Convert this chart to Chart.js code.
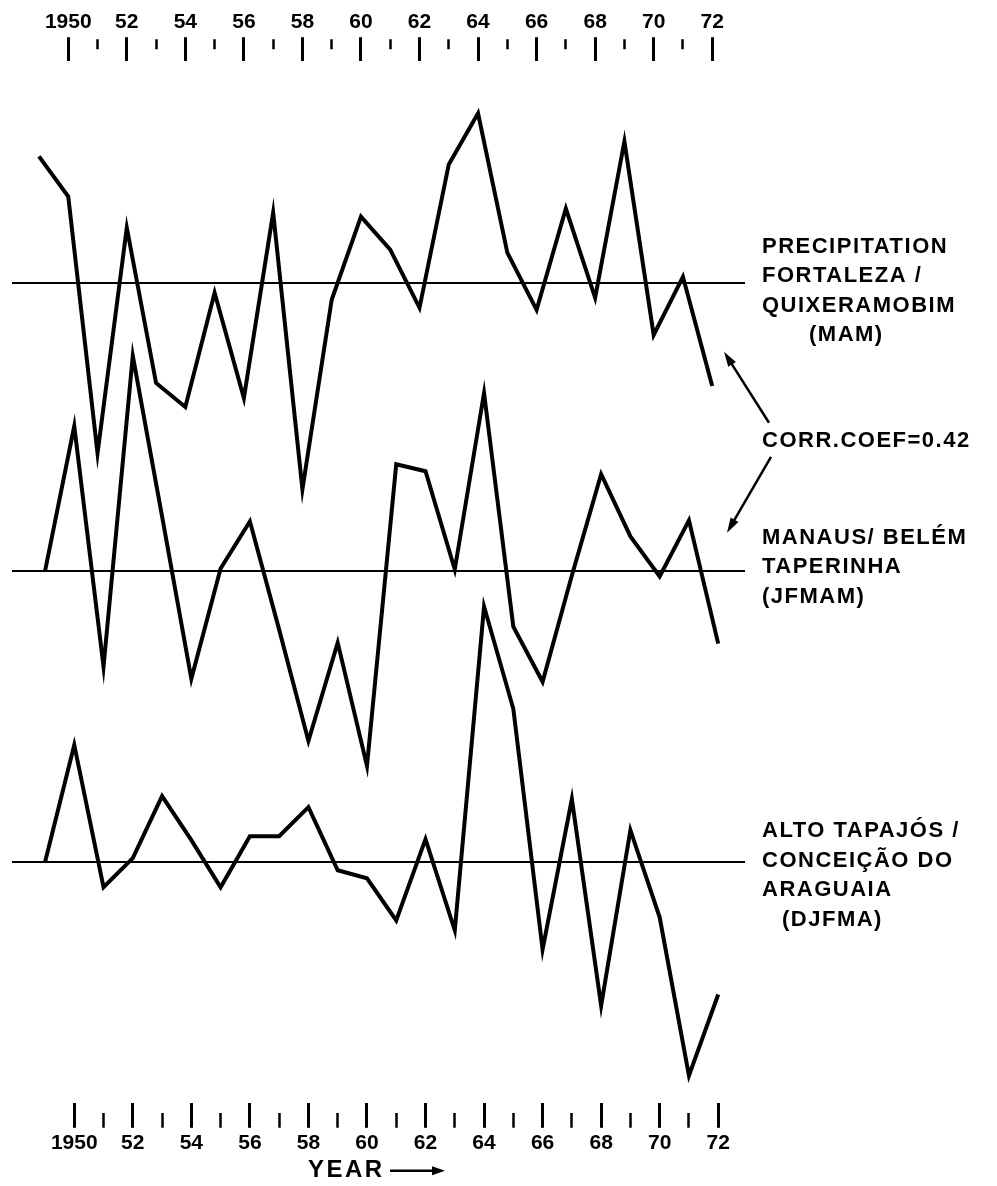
<!DOCTYPE html>
<html>
<head>
<meta charset="utf-8">
<title>Precipitation departures 1949-1972</title>
<script src="https://cdn.jsdelivr.net/npm/chart.js@4.4.0/dist/chart.umd.min.js"></script>
<style>
  body { margin: 0; background: #fff; }
  #chart { display: block; }
</style>
</head>
<body>
<canvas id="chart" width="997" height="1186"></canvas>
<script>
// years of the three series
const years = [1949, 1950, 1951, 1952, 1953, 1954, 1955, 1956, 1957, 1958, 1959, 1960,
               1961, 1962, 1963, 1964, 1965, 1966, 1967, 1968, 1969, 1970, 1971, 1972];

// standardized precipitation departures
const fortaleza = [1.26, 0.86, -1.70, 0.55, -1.00, -1.24, -0.10, -1.15, 0.70, -2.06, -0.17, 0.66,
                   0.33, -0.25, 1.18, 1.69, 0.30, -0.27, 0.74, -0.15, 1.41, -0.52, 0.06, -1.03];
const manaus = [0.00, 1.45, -0.95, 2.15, 0.55, -1.07, 0.03, 0.50, -0.58, -1.69, -0.71, -1.94,
                1.07, 1.00, 0.02, 1.78, -0.55, -1.10, -0.04, 0.97, 0.35, -0.05, 0.51, -0.72];
const altoTapajos = [0.00, 1.17, -0.25, 0.04, 0.66, 0.22, -0.25, 0.26, 0.26, 0.55, -0.08, -0.16,
                     -0.58, 0.23, -0.68, 2.55, 1.53, -0.87, 0.63, -1.43, 0.32, -0.55, -2.13, -1.32];

// year axis ticks, labels only on even years
const tickYears = [1950, 1951, 1952, 1953, 1954, 1955, 1956, 1957, 1958, 1959, 1960, 1961,
                   1962, 1963, 1964, 1965, 1966, 1967, 1968, 1969, 1970, 1971, 1972];
const tickLabels = ['1950', '', '52', '', '54', '', '56', '', '58', '', '60', '',
                    '62', '', '64', '', '66', '', '68', '', '70', '', '72'];

// text beside each curve
const notesFortaleza = ['PRECIPITATION', 'FORTALEZA /', 'QUIXERAMOBIM', '(MAM)'];
const notesManaus = ['MANAUS/ BELÉM', 'TAPERINHA', '(JFMAM)'];
const notesTapajos = ['ALTO TAPAJÓS /', 'CONCEIÇÃO DO', 'ARAGUAIA', '(DJFMA)'];
const corrText = 'CORR.COEF=0.42';

const letterFont = '"Liberation Sans", Arial, sans-serif';

function toPoints(vals) {
  return years.map((y, i) => ({ x: y, y: vals[i] }));
}

// year axis: long ticks on even years, short ones on odd years
function yearAxis(pos, min, max, minorDash, len, pad) {
  return {
    type: 'linear',
    position: pos,
    min: min,
    max: max,
    afterBuildTicks: (s) => { s.ticks = tickYears.map(v => ({ value: v })); },
    border: { display: false },
    grid: {
      drawOnChartArea: false,
      tickLength: len,
      tickColor: '#000',
      tickWidth: (c) => c.tick && c.tick.value % 2 ? 2.5 : 3,
      tickBorderDash: (c) => c.tick && c.tick.value % 2 ? minorDash : []
    },
    ticks: {
      autoSkip: false,
      maxRotation: 0,
      padding: pad,
      color: '#000',
      font: { family: letterFont, size: 21, weight: 'bold' },
      callback: (v) => tickLabels[tickYears.indexOf(v)] || ''
    }
  };
}

// one hidden axis per curve, only the zero line is shown
function seriesAxis(min, max) {
  return {
    position: 'left',
    min: min,
    max: max,
    afterBuildTicks: (s) => { s.ticks = [{ value: 0 }]; },
    border: { display: false },
    grid: { color: '#000', lineWidth: 2, drawTicks: false },
    ticks: { display: false }
  };
}

function arrow(ctx, x1, y1, x2, y2, len, half) {
  const ang = Math.atan2(y2 - y1, x2 - x1);
  const c = Math.cos(ang), s = Math.sin(ang);
  ctx.beginPath();
  ctx.moveTo(x1, y1);
  ctx.lineTo(x2 - c * len * 0.6, y2 - s * len * 0.6);
  ctx.stroke();
  ctx.beginPath();
  ctx.moveTo(x2, y2);
  ctx.lineTo(x2 - c * len - s * half, y2 - s * len + c * half);
  ctx.lineTo(x2 - c * len + s * half, y2 - s * len - c * half);
  ctx.closePath();
  ctx.fill();
}

const sideNotes = {
  id: 'sideNotes',
  afterDraw(chart) {
    const ctx = chart.ctx;
    const a = chart.chartArea;
    const x0 = a.right + 17;
    const zA = chart.scales.yA.getPixelForValue(0);
    const zB = chart.scales.yB.getPixelForValue(0);
    const zC = chart.scales.yC.getPixelForValue(0);
    ctx.save();
    ctx.fillStyle = '#000';
    ctx.strokeStyle = '#000';
    ctx.font = 'bold 22px ' + letterFont;
    ctx.letterSpacing = '1.5px';
    ctx.textBaseline = 'middle';
    ctx.textAlign = 'left';

    notesFortaleza.forEach((t, i) => {
      ctx.fillText(t, x0 + (i === 3 ? 47 : 0), zA - 36 + i * 29.5);
    });
    notesManaus.forEach((t, i) => {
      ctx.fillText(t, x0, zB - 34 + i * 29.5);
    });
    notesTapajos.forEach((t, i) => {
      ctx.fillText(t, x0 + (i === 3 ? 20 : 0), zC - 31 + i * 29.5);
    });

    const cy = zA + 158;
    ctx.fillText(corrText, x0, cy);

    ctx.lineWidth = 2.5;
    arrow(ctx, x0 + 7, cy - 18, x0 - 38, cy - 89, 15, 4.5);
    arrow(ctx, x0 + 9, cy + 16, x0 - 35, cy + 92, 15, 4.5);

    // axis caption under the bottom ticks
    const yy = a.bottom + 68;
    ctx.font = 'bold 24px ' + letterFont;
    ctx.letterSpacing = '2.5px';
    ctx.fillText('YEAR', a.left + 296, yy);
    ctx.lineWidth = 2.5;
    arrow(ctx, a.left + 378, yy, a.left + 433, yy, 13, 4.5);
    ctx.restore();
  }
};

const lineStyle = {
  borderColor: '#000',
  borderWidth: 4,
  pointRadius: 0,
  tension: 0,
  fill: false,
  borderJoinStyle: 'miter'
};

new Chart(document.getElementById('chart'), {
  type: 'line',
  data: {
    datasets: [
      Object.assign({ label: 'Fortaleza / Quixeramobim (MAM)', data: toPoints(fortaleza), xAxisID: 'x', yAxisID: 'yA' }, lineStyle),
      Object.assign({ label: 'Manaus / Belém Taperinha (JFMAM)', data: toPoints(manaus), xAxisID: 'x2', yAxisID: 'yB' }, lineStyle),
      Object.assign({ label: 'Alto Tapajós / Conceição do Araguaia (DJFMA)', data: toPoints(altoTapajos), xAxisID: 'x2', yAxisID: 'yC' }, lineStyle)
    ]
  },
  options: {
    responsive: false,
    animation: false,
    devicePixelRatio: 1,
    layout: { padding: { left: 12, right: 252, top: 7, bottom: 28 } },
    plugins: { legend: { display: false }, tooltip: { enabled: false } },
    scales: {
      x: yearAxis('top', 1948.078, 1973.12, [0, 2, 10, 50], 24, 2.5),
      x2: yearAxis('bottom', 1947.873, 1972.915, [0, 10, 15, 50], 25, 2.5),
      yA: seriesAxis(-8.18, 2.21),
      yB: seriesAxis(-5.30, 5.09),
      yC: seriesAxis(-2.40, 7.99)
    }
  },
  plugins: [sideNotes]
});
</script>
</body>
</html>
